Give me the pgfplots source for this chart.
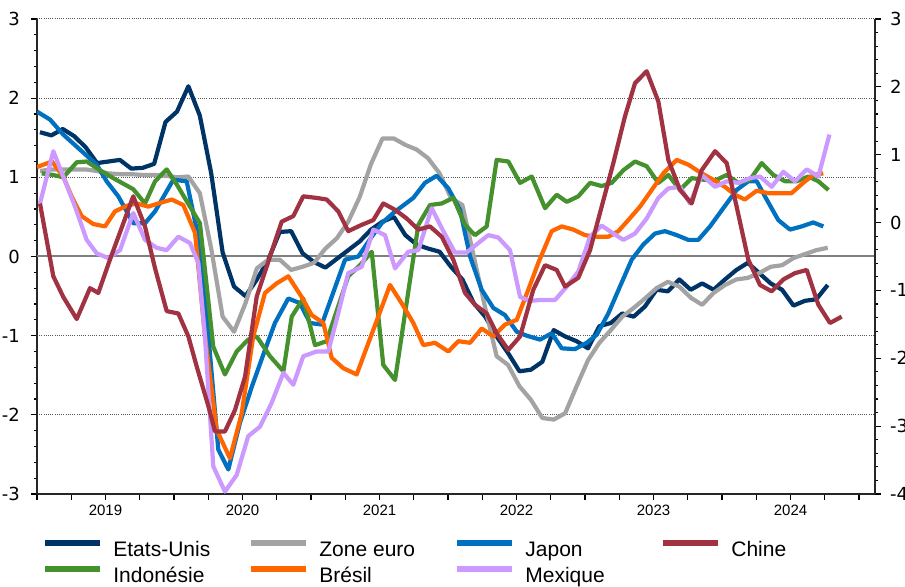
\documentclass[border=0pt]{standalone}
\usepackage{fontspec}
\setmainfont{Liberation Sans}
\newfontfamily\dejavu{DejaVu Sans}
\usepackage{pgfplots}
\pgfplotsset{compat=1.18}

\definecolor{cusa}{RGB}{0,51,102}
\definecolor{ceuro}{RGB}{163,163,163}
\definecolor{cjap}{RGB}{0,112,192}
\definecolor{cchine}{RGB}{160,50,66}
\definecolor{cindo}{RGB}{68,145,45}
\definecolor{cbres}{RGB}{255,102,0}
\definecolor{cmex}{RGB}{204,153,255}

\begin{document}
\begin{tikzpicture}
\useasboundingbox (-18.5pt,-46.5pt) rectangle (434pt,247pt);
\begin{axis}[
  at={(0,0)}, anchor=south west,
  scale only axis, width=419pt, height=237.5pt,
  xmin=-0.26, xmax=73.14, ymin=-3, ymax=3,
  axis x line*=bottom, axis y line*=left,
  axis line style={-, black!85, line width=0.8pt},
  xtick={-0.26,2.74,...,71.74}, xticklabels={},
  extra x ticks={5.74,17.74,29.74,41.74,53.74,65.74},
  extra x tick labels={2019,2020,2021,2022,2023,2024},
  extra x tick style={major tick length=0pt, xticklabel style={yshift=-2pt}},
  xticklabel style={font=\fontsize{7.5}{9}\selectfont},
  ytick={-3,...,3}, minor y tick num=4,
  ymajorgrids, grid style={black!65, dash pattern=on 0.5pt off 0.6pt, line width=0.5pt},
  extra y ticks={0}, extra y tick labels={},
  extra y tick style={grid style={solid, black!50, line width=1pt}, major tick length=0pt},
  yticklabel style={font=\dejavu\fontsize{9}{10}\selectfont, xshift=-2pt},
  /pgf/number format/assume math mode=true,
  tick align=outside, major tick length=3pt, minor tick length=1.5pt,
  tick style={black, line width=0.6pt},
  every axis plot/.append style={line width=2.1pt, line join=round, mark=none},
  legend columns=4,
  legend image code/.code={\draw[#1, line width=3pt] (0pt,3.5pt) -- (27.5pt,3.5pt);},
  legend style={at={(axis description cs:0,0)}, anchor=north west, xshift=2.5pt, yshift=-23pt,
    draw=none, fill=none, inner sep=0pt, row sep=3pt,
    font=\fontsize{10.5}{12}\selectfont,
    nodes={inner sep=0pt, text height=8pt, text depth=2pt},
    /tikz/every odd column/.append style={column sep=5pt},
    /tikz/every even column/.append style={column sep=4pt}},
]
% Etats-Unis
\addplot[cusa] coordinates {
(0,1.57) (1,1.53) (2,1.61) (3,1.52) (4,1.38) (5,1.18) (6,1.2) (7,1.22) (8,1.11) (9,1.12)
(10,1.17) (11,1.70) (12,1.83) (13,2.15) (14,1.78) (15,1.05) (16,0.05) (17,-0.38) (18,-0.5) (19,-0.29)
(20,-0.04) (21,0.31) (22,0.32) (23,0.04) (24,-0.07) (25,-0.14) (26,-0.03) (27,0.08) (28,0.19) (29,0.34)
(30,0.44) (31,0.5) (32,0.27) (33,0.15) (34,0.1) (35,0.06) (36,-0.13) (37,-0.29) (38,-0.59) (39,-0.76)
(40,-1.01) (41,-1.22) (42,-1.45) (43,-1.43) (44,-1.33) (45,-0.93) (46,-1.01) (47,-1.07) (48,-1.16) (49,-0.88)
(50,-0.84) (51,-0.72) (52,-0.76) (53,-0.63) (54,-0.42) (55,-0.44) (56,-0.29) (57,-0.42) (58,-0.34) (59,-0.42)
(60,-0.29) (61,-0.17) (62,-0.08) (63,-0.21) (64,-0.34) (65,-0.42) (66,-0.62) (67,-0.56) (68,-0.54) (69,-0.36)};
% Zone euro
\addplot[ceuro] coordinates {
(0,1.08) (1,1.1) (2,1.1) (3,1.1) (4,1.1) (5,1.08) (6,1.05) (7,1.04) (8,1.04) (9,1.03)
(10,1.03) (11,1.02) (12,1.0) (13,1.01) (14,0.8) (15,0.1) (16,-0.76) (17,-0.95) (18,-0.59) (19,-0.15)
(20,-0.04) (21,-0.04) (22,-0.17) (23,-0.13) (24,-0.08) (25,0.1) (26,0.23) (27,0.44) (28,0.75) (29,1.17)
(30,1.49) (31,1.49) (32,1.41) (33,1.35) (34,1.24) (35,1.05) (36,0.74) (37,0.65) (38,0.0) (39,-0.65)
(40,-1.26) (41,-1.37) (42,-1.64) (43,-1.81) (44,-2.04) (45,-2.06) (46,-1.98) (47,-1.64) (48,-1.31) (49,-1.09)
(50,-0.93) (51,-0.76) (52,-0.65) (53,-0.53) (54,-0.4) (55,-0.32) (56,-0.38) (57,-0.52) (58,-0.61) (59,-0.46)
(60,-0.36) (61,-0.29) (62,-0.27) (63,-0.21) (64,-0.13) (65,-0.11) (66,-0.02) (67,0.03) (68,0.08) (69,0.11)};
% Japon
\addplot[cjap] coordinates {
(-0.26,1.83) (0.88,1.73) (2.04,1.54) (4.97,1.16) (5.84,0.95) (6.86,0.76) (8.17,0.42) (9.2,0.42) (10.08,0.57)
(11.68,0.97) (12.85,0.95) (13.73,0.34) (14.63,-0.8) (15.62,-2.44) (16.5,-2.69) (17.52,-2.1) (18.57,-1.64)
(19.56,-1.24) (20.58,-0.84) (21.75,-0.53) (22.78,-0.59) (23.65,-0.84) (24.68,-0.86) (26.72,-0.04) (27.88,0.0)
(29.06,0.25) (29.93,0.42) (30.95,0.55) (32.7,0.74) (33.72,0.93) (34.75,1.02) (35.77,0.86) (36.79,0.59)
(37.67,0.0) (38.69,-0.42) (39.71,-0.65) (40.73,-0.74) (41.76,-0.95) (42.63,-1.0) (43.8,-1.05) (44.82,-0.97)
(45.7,-1.16) (46.86,-1.17) (47.89,-1.09) (48.76,-0.99) (49.78,-0.72) (50.8,-0.38) (51.83,-0.04) (52.84,0.15)
(53.87,0.29) (54.75,0.32) (55.77,0.27) (56.79,0.21) (57.66,0.21) (58.69,0.38) (59.85,0.61) (61.02,0.84)
(62.04,0.95) (62.78,0.95) (63.65,0.72) (64.67,0.46) (65.69,0.34) (66.72,0.38) (67.73,0.43) (68.61,0.38)};
\addlegendimage{cchine, line width=2pt}
% Indonesie
\addplot[cindo] coordinates {
(0.15,1.05) (1.17,1.03) (2.04,1.0) (3.22,1.19) (4.09,1.2) (5.26,1.09) (6.42,0.99) (8.17,0.85) (9.2,0.67)
(10.08,0.95) (11.1,1.1) (11.98,0.91) (13.14,0.63) (14.01,0.42) (15.18,-1.14) (16.2,-1.49) (17.23,-1.2)
(18.24,-1.05) (18.98,-1.01) (20.15,-1.26) (21.32,-1.45) (22.05,-0.76) (23.06,-0.53) (24.09,-1.12) (25.11,-1.07)
(27.0,-0.25) (28.03,-0.11) (29.06,0.06) (30.07,-1.37) (31.1,-1.56) (33.14,0.4) (34.16,0.65) (35.19,0.67)
(36.2,0.74) (37.23,0.4) (38.1,0.27) (39.13,0.38) (40.0,1.22) (41.02,1.2) (42.05,0.93) (43.07,1.01) (44.24,0.61)
(45.26,0.78) (46.14,0.69) (47.15,0.76) (48.18,0.93) (49.2,0.89) (50.08,0.93) (51.1,1.09) (52.12,1.2) (53.14,1.14)
(54.16,0.93) (55.04,1.03) (56.06,0.84) (57.08,0.99) (58.1,0.97) (59.13,0.96) (60.15,1.03) (61.17,0.93)
(62.19,0.97) (63.21,1.18) (64.23,1.03) (65.26,0.95) (66.28,0.95) (67.3,1.01) (68.18,0.95) (69.06,0.84)};
% Bresil
\addplot[cbres] coordinates {
(-0.26,1.13) (1.05,1.2) (2.04,1.01) (2.77,0.76) (3.65,0.51) (4.67,0.41) (5.7,0.38) (6.57,0.57) (7.59,0.64)
(8.47,0.67) (9.49,0.63) (10.36,0.67) (11.54,0.72) (12.55,0.65) (13.58,0.3) (14.45,-1.0) (15.48,-2.19)
(16.64,-2.55) (17.67,-1.98) (18.68,-1.01) (19.71,-0.46) (20.73,-0.34) (21.75,-0.25) (22.92,-0.51) (23.8,-0.74)
(24.82,-0.84) (25.55,-1.28) (26.56,-1.41) (27.74,-1.49) (30.66,-0.36) (31.68,-0.59) (32.7,-0.84) (33.58,-1.12)
(34.6,-1.09) (35.77,-1.2) (36.64,-1.07) (37.67,-1.09) (38.69,-0.91) (39.71,-1.01) (40.73,-0.86) (41.76,-0.8)
(42.77,-0.42) (43.65,-0.08) (44.82,0.32) (45.7,0.38) (46.71,0.34) (47.74,0.27) (48.76,0.25) (49.78,0.25)
(50.66,0.32) (51.53,0.46) (52.56,0.63) (53.58,0.84) (54.6,1.05) (55.77,1.22) (56.79,1.16) (57.96,1.05)
(58.97,0.97) (59.99,0.88) (60.87,0.78) (61.74,0.72) (62.77,0.83) (63.78,0.8) (64.81,0.8) (65.83,0.8)
(66.85,0.93) (67.73,1.03) (68.61,1.05)};
% Mexique
\addplot[cmex] coordinates {
(0,0.67) (1.17,1.33) (2.04,1.01) (3.07,0.63) (4.09,0.21) (4.97,0.04) (5.99,-0.02) (7.01,0.08) (8.17,0.55)
(9.2,0.21) (10.22,0.11) (11.1,0.08) (12.12,0.25) (13.14,0.17) (13.87,-0.08) (14.45,-1.01) (15.18,-2.65)
(16.2,-2.97) (17.23,-2.76) (18.24,-2.27) (19.27,-2.15) (20.29,-1.85) (21.32,-1.47) (22.19,-1.62) (23.06,-1.26)
(24.23,-1.2) (25.25,-1.2) (25.98,-0.8) (27.0,-0.21) (28.18,-0.13) (29.2,0.34) (30.22,0.27) (31.1,-0.15)
(32.26,0.06) (33.14,0.08) (34.31,0.61) (35.33,0.32) (36.35,0.05) (37.37,0.05) (38.39,0.17) (39.27,0.27)
(40.14,0.24) (41.17,0.08) (42.05,-0.51) (42.92,-0.56) (43.8,-0.55) (45.11,-0.55) (46.14,-0.38) (47.15,-0.19)
(48.18,0.25) (49.2,0.39) (50.22,0.29) (51.1,0.21) (52.12,0.29) (53.14,0.48) (54.16,0.74) (55.04,0.86)
(56.06,0.88) (56.93,0.67) (57.96,1.03) (59.13,0.88) (60.15,0.95) (61.17,0.93) (62.19,0.99) (63.07,1.01)
(64.09,0.88) (65.11,1.07) (66.13,0.95) (67.16,1.1) (68.18,1.01) (69.15,1.54)};
% Chine
\addplot[cchine, forget plot] coordinates {
(0,0.67) (1.17,-0.25) (2.04,-0.51) (3.22,-0.79) (4.38,-0.40) (5.11,-0.46) (6.13,-0.04) (8.17,0.76) (9.2,0.38)
(10.08,-0.15) (11.1,-0.69) (12.12,-0.72) (13.0,-1.01) (13.73,-1.39) (14.75,-1.89) (15.33,-2.21) (16.2,-2.21)
(17.08,-1.94) (17.96,-1.52) (18.98,-0.51) (20.15,0.0) (21.17,0.44) (22.19,0.51) (23.06,0.76) (24.23,0.74)
(25.11,0.72) (26.13,0.57) (27.0,0.32) (28.18,0.40) (29.2,0.46) (30.07,0.67) (31.1,0.59) (32.12,0.48)
(33.14,0.34) (34.16,0.38) (35.19,0.25) (36.2,-0.04) (37.23,-0.46) (38.1,-0.61) (39.13,-0.72) (40.0,-0.97)
(41.02,-1.18) (42.05,-1.01) (43.21,-0.42) (44.24,-0.11) (45.26,-0.17) (45.99,-0.38) (47.15,-0.27) (48.18,0.08)
(49.2,0.63) (50.22,1.18) (51.24,1.77) (52.12,2.19) (53.14,2.34) (54.16,1.96) (55.04,1.22) (56.06,0.84)
(57.08,0.67) (57.96,1.09) (59.13,1.33) (60.15,1.18) (61.02,0.63) (62.04,-0.04) (63.07,-0.36) (64.09,-0.44)
(65.11,-0.29) (66.13,-0.21) (67.16,-0.17) (68.18,-0.61) (69.2,-0.84) (70.22,-0.76)};
\legend{\makebox[63.5pt][l]{Etats-Unis},\makebox[63.5pt][l]{Zone euro},\makebox[63.5pt][l]{Japon},\makebox[63.5pt][l]{Chine},
  \makebox[63.5pt][l]{Indonésie},\makebox[63.5pt][l]{Brésil},\makebox[63.5pt][l]{Mexique}}
\end{axis}
\begin{axis}[
  at={(0,0)}, anchor=south west,
  scale only axis, width=419pt, height=237.5pt,
  xmin=-0.26, xmax=73.14, ymin=-4, ymax=3,
  axis x line=none, axis y line*=right,
  axis line style={-, black!85, line width=0.8pt},
  ytick={-4,...,3}, minor y tick num=4,
  yticklabel style={font=\dejavu\fontsize{9}{10}\selectfont, xshift=1pt},
  /pgf/number format/assume math mode=true,
  tick align=outside, major tick length=3pt, minor tick length=1.5pt,
  tick style={black, line width=0.6pt},
]
\addplot[draw=none] coordinates {(0,0)};
\end{axis}
\end{tikzpicture}
\end{document}
